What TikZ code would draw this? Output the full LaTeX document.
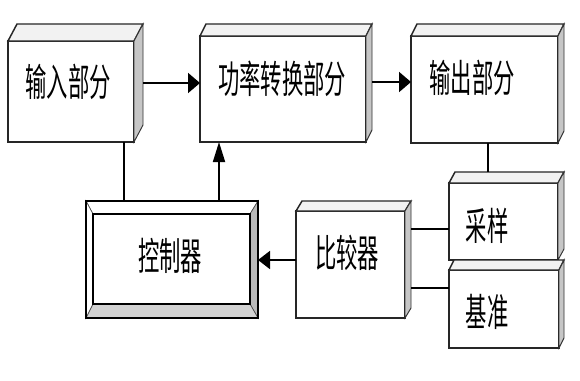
\documentclass[tikz,border=0pt]{standalone}
\usepackage{fontspec}
\usepackage{graphicx}
\newfontfamily\cjk{Noto Sans CJK SC}
\usetikzlibrary{arrows.meta,calc}
\tikzset{
 front/.style={draw=black!85, line width=1.1pt, fill=white, inner sep=0pt, outer sep=0pt, rectangle},
 topface/.style={draw=black!85, line width=1.1pt, fill=gray!10, line join=miter},
 sideface/.style={draw=black!80, line width=0.7pt, fill=gray!45},
 lbl/.style={font=\cjk\fontsize{16}{16}\selectfont, inner sep=0pt},
 harr/.style={line width=1.4pt, -{Triangle[length=9pt,width=15pt]}},
 carr/.style={line width=1.4pt, -{Triangle[length=9pt,width=13.5pt]}},
 varr/.style={line width=1.3pt, -{Triangle[length=15pt,width=9pt]}},
 wire/.style={line width=0.9pt},
 thickwire/.style={line width=1.4pt},
}
% name, x1, y1, x2, y2, dx, dy
\newcommand\mkbox[7]{%
 \node[front, minimum width={(#4-#2)*0.75pt}, minimum height={(#5-#3)*0.75pt}] (#1) at ({(#2+#4)/2},{(#3+#5)/2}) {};
 \coordinate (#1-bk) at ([shift={(#6,-#7)}]#1.north west);
 \coordinate (#1-br) at ([shift={(#6,-#7)}]#1.south east);
 \filldraw[topface] (#1.north west) -- (#1-bk) -- ([shift={(#6,-#7)}]#1.north east) -- (#1.north east) -- cycle;
 \filldraw[sideface] (#1.north east) -- ([shift={(#6,-#7)}]#1.north east) -- (#1-br) -- (#1.south east) -- cycle;
}
\begin{document}
\begin{tikzpicture}[x=0.75pt,y=-0.75pt]
\fill[white] (0,0) rectangle (580,380);
\useasboundingbox (0,0) rectangle (580,380);

\mkbox{b1}{8}{41}{134}{142}{9}{17}
\mkbox{b2}{200}{36}{366}{142}{6}{12}
\mkbox{b3}{411}{36}{558}{143}{6}{12}
\mkbox{b4}{449}{183}{558}{260}{6}{11}
\mkbox{b5}{449}{270}{559}{348}{5}{10}
\mkbox{b6}{296}{211}{405}{318}{6}{10}

% controller (bevelled)
\node[front, line width=1.5pt, minimum width={172*0.75pt}, minimum height={117*0.75pt}] (ctrl) at (172,259.5) {};
\node[inner sep=0pt, outer sep=0pt, minimum width={157*0.75pt}, minimum height={90*0.75pt}] (ctrlin) at (171.5,259) {};
\filldraw[fill=white, draw=black!70, line width=0.5pt] (ctrl.north west) -- (ctrl.north east) -- (ctrlin.north east) -- (ctrlin.north west) -- cycle;
\filldraw[fill=white, draw=black!70, line width=0.5pt] (ctrl.north west) -- (ctrlin.north west) -- (ctrlin.south west) -- (ctrl.south west) -- cycle;
\filldraw[fill=gray!55, draw=black!70, line width=0.5pt] (ctrl.north east) -- (ctrlin.north east) -- (ctrlin.south east) -- (ctrl.south east) -- cycle;
\filldraw[fill=gray!35, draw=black!70, line width=0.5pt] (ctrl.south west) -- (ctrlin.south west) -- (ctrlin.south east) -- (ctrl.south east) -- cycle;
\draw[line width=1.3pt] (ctrlin.north west) rectangle (ctrlin.south east);
\draw[line width=1.5pt] (ctrl.north west) rectangle (ctrl.south east);

% labels
\node[lbl] (t1) at (68,82) {\scalebox{1}[1.8]{输入部分}};
\node[lbl] (t2) at (282,79) {\scalebox{1}[1.8]{功率转换部分}};
\node[lbl] (t3) at (472,78) {\scalebox{1}[1.8]{输出部分}};
\node[lbl] (t4) at (487,226) {\scalebox{1}[1.8]{采样}};
\node[lbl] (t5) at (487,312) {\scalebox{1}[1.8]{基准}};
\node[lbl] (t6) at (347,253) {\scalebox{1}[1.8]{比较器}};
\node[lbl] (t7) at (170,256) {\scalebox{1}[1.8]{控制器}};

% connectors
\coordinate (a1) at (143,83);
\draw[harr] (a1) -- (a1 -| b2.west);
\coordinate (a2) at (372,82);
\draw[harr] (a2) -- (a2 -| b3.west);
\coordinate (c1) at (124,0);
\draw[wire] (c1 |- b1.south) -- (c1 |- ctrl.north);
\coordinate (c2) at (219,0);
\draw[varr] (c2 |- ctrl.north) -- (c2 |- b2.south);
\coordinate (c3) at (488,0);
\draw[wire] (c3 |- b3.south) -- (c3 |- b4-bk);
\coordinate (c4) at (0,229);
\draw[thickwire] (c4 -| b6-br) -- (c4 -| b4.west);
\coordinate (c5) at (0,288);
\draw[thickwire] (c5 -| b6-br) -- (c5 -| b5.west);
\coordinate (c6) at (0,260);
\draw[carr] (c6 -| b6.west) -- (c6 -| ctrl.east);
\end{tikzpicture}
\end{document}
